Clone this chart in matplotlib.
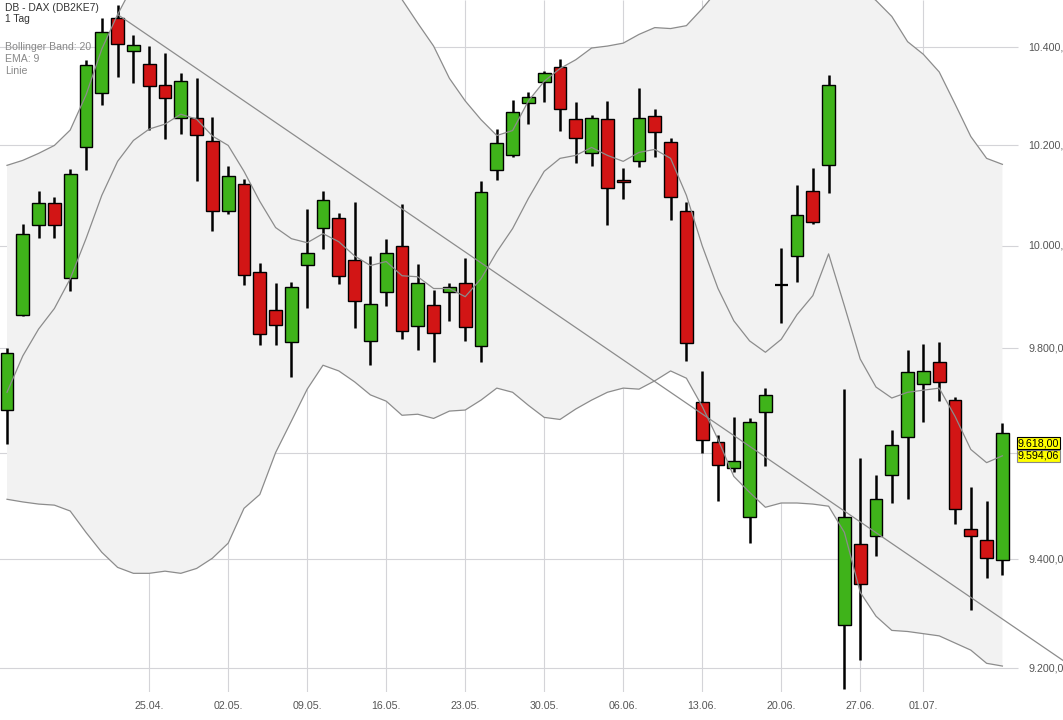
import numpy as np
import pandas as pd
import matplotlib
matplotlib.use('Agg')
import matplotlib.pyplot as plt
import matplotlib.transforms as mtransforms

plt.rcParams['font.family'] = ['Liberation Sans', 'DejaVu Sans']

# trading days shown (one candle per day)
days = pd.bdate_range('2016-04-12', '2016-07-08')

# daily OHLC
opens = [9681, 9865, 10042, 10084, 9937, 10196, 10307, 10459, 10392, 10366,
         10323, 10255, 10255, 10208, 10068, 10122, 9949, 9875, 9812, 9963,
         10036, 10054, 9971, 9814, 9910, 10000, 9843, 9884, 9910, 9927,
         9804, 10150, 10180, 10285, 10329, 10360, 10253, 10184, 10253, 10130,
         10168, 10259, 10206, 10068, 9696, 9621, 9570, 9478, 9677, 9922,
         9980, 10108, 10160, 9278, 9428, 9443, 9557, 9629, 9731, 9773,
         9700, 9456, 9436, 9398]
highs = [9800, 10044, 10108, 10096, 10152, 10374, 10459, 10486, 10424, 10402,
         10388, 10347, 10337, 10257, 10158, 10132, 9967, 9926, 9929, 10072,
         10108, 10064, 10086, 9980, 10014, 10082, 9965, 9914, 9926, 9975,
         10128, 10234, 10291, 10309, 10350, 10376, 10287, 10261, 10289, 10154,
         10317, 10273, 10214, 10086, 9756, 9633, 9667, 9665, 9723, 9996,
         10120, 10154, 10343, 9721, 9589, 9557, 9642, 9796, 9808, 9812,
         9706, 9535, 9508, 9656]
lows = [9617, 9863, 10016, 10016, 9912, 10150, 10281, 10339, 10327, 10232,
        10212, 10224, 10128, 10030, 10062, 9922, 9806, 9806, 9744, 9878,
        9994, 9924, 9839, 9767, 9882, 9818, 9796, 9773, 9853, 9814,
        9773, 10130, 10176, 10244, 10287, 10230, 10164, 10158, 10042, 10092,
        10156, 10176, 10050, 9775, 9600, 9508, 9564, 9430, 9574, 9849,
        9929, 10044, 10104, 9163, 9215, 9407, 9505, 9512, 9658, 9698,
        9465, 9306, 9365, 9370]
closes = [9790, 10024, 10084, 10042, 10142, 10364, 10431, 10406, 10404, 10321,
          10295, 10331, 10222, 10068, 10138, 9943, 9828, 9845, 9918, 9986,
          10090, 9941, 9892, 9886, 9986, 9833, 9927, 9829, 9918, 9841,
          10106, 10204, 10267, 10297, 10347, 10273, 10214, 10255, 10114, 10126,
          10255, 10228, 10096, 9810, 9623, 9576, 9585, 9658, 9710, 9922,
          10060, 10048, 10323, 9478, 9354, 9512, 9615, 9754, 9756, 9735,
          9493, 9443, 9402, 9637]

# Bollinger band (20) and EMA (9)
bb_upper = [10160, 10170, 10184, 10200, 10231, 10302, 10396, 10467, 10529, 10580,
            10620, 10645, 10661, 10671, 10671, 10661, 10645, 10631, 10616, 10600,
            10584, 10569, 10553, 10535, 10514, 10498, 10449, 10402, 10336, 10290,
            10252, 10220, 10230, 10290, 10330, 10356, 10374, 10398, 10402, 10408,
            10426, 10440, 10438, 10444, 10479, 10518, 10549, 10569, 10580, 10584,
            10584, 10580, 10569, 10555, 10522, 10496, 10463, 10411, 10385, 10349,
            10284, 10218, 10174, 10162]
bb_lower = [9512, 9507, 9503, 9501, 9490, 9450, 9413, 9385, 9374, 9374,
            9378, 9374, 9383, 9402, 9430, 9495, 9521, 9600, 9660, 9721,
            9767, 9756, 9735, 9710, 9698, 9671, 9673, 9665, 9679, 9681,
            9700, 9723, 9715, 9690, 9667, 9663, 9683, 9700, 9715, 9723,
            9721, 9737, 9756, 9742, 9688, 9625, 9555, 9525, 9497, 9505,
            9505, 9503, 9499, 9450, 9339, 9295, 9269, 9267, 9263, 9259,
            9246, 9233, 9209, 9204]
ema9 = [9715, 9785, 9837, 9877, 9935, 10014, 10100, 10168, 10210, 10233,
        10243, 10263, 10253, 10219, 10200, 10148, 10088, 10036, 10014, 10006,
        10024, 10008, 9980, 9961, 9969, 9941, 9939, 9916, 9916, 9900,
        9935, 9988, 10034, 10094, 10148, 10174, 10180, 10196, 10180, 10168,
        10186, 10192, 10174, 10100, 10000, 9916, 9853, 9814, 9792, 9817,
        9865, 9902, 9984, 9882, 9779, 9725, 9704, 9715, 9719, 9723,
        9669, 9606, 9581, 9594]

# trend line ("Linie"): candle index and price at both ends
trend_x = [7, 67]
trend_y = [10467, 9211]

tick_dates = ['2016-04-25', '2016-05-02', '2016-05-09', '2016-05-16', '2016-05-23',
              '2016-05-30', '2016-06-06', '2016-06-13', '2016-06-20', '2016-06-27',
              '2016-07-01']
price_levels = [9200, 9400, 9600, 9800, 10000, 10200, 10400]
# 9.600 label sits under the yellow price boxes, so it is not printed
label_levels = [9200, 9400, 9800, 10000, 10200, 10400]
last_price = 9618.00
last_ema = 9594.06

GREEN = '#3fb31a'
RED = '#d21515'
LINE = '#8c8c8c'
GRID = '#d4d4d8'


def de_fmt(v):
    return f'{v:,.2f}'.replace(',', 'X').replace('.', ',').replace('X', '.')


idx = np.arange(len(days))
o = np.array(opens, float)
h = np.array(highs, float)
l = np.array(lows, float)
c = np.array(closes, float)

fig = plt.figure(figsize=(10.63, 7.2), dpi=100)
ax = fig.add_axes([0, 28 / 720, 1, 692 / 720])
ax.set_yscale('log')
ax.set_xlim(-0.443, 66.835)
ax.set_ylim(9157, 10497)
ax.set_axis_off()

# grid
tick_idx = [days.get_loc(pd.Timestamp(d)) for d in tick_dates]
ax.vlines(tick_idx, 9157, 10497, color=GRID, lw=0.8, zorder=0)
ax.hlines(price_levels, -0.5, 64.0, color=GRID, lw=0.8, zorder=0)

# bollinger band area
ax.fill_between(idx, bb_lower, bb_upper, color='#f2f2f2', lw=0, zorder=1)

# candles
ax.vlines(idx, l, h, color='black', lw=1.8, zorder=3)
up = c > o
down = c < o
ax.bar(idx[up], (c - o)[up], bottom=o[up], width=0.8, color=GREEN,
       edgecolor='black', linewidth=1.0, zorder=4)
ax.bar(idx[down], (o - c)[down], bottom=c[down], width=0.8, color=RED,
       edgecolor='black', linewidth=1.0, zorder=4)
flat = ~(up | down)
ax.hlines(c[flat], idx[flat] - 0.4, idx[flat] + 0.4, color='black', lw=1.6, zorder=4)

# indicator lines
ax.plot(idx, bb_upper, color=LINE, lw=0.9, zorder=5)
ax.plot(idx, bb_lower, color=LINE, lw=0.9, zorder=5)
ax.plot(idx, ema9, color=LINE, lw=0.9, zorder=5)
ax.plot(trend_x, trend_y, color=LINE, lw=0.9, zorder=5, clip_on=False)

# price labels on the right
for p in label_levels:
    ax.text(64.62, p, de_fmt(p), ha='left', va='center', fontsize=7.7,
            color='#555555', zorder=6)

ax.text(63.98, last_price, de_fmt(last_price), ha='left', va='center', fontsize=7.7,
        color='black', zorder=8,
        bbox=dict(boxstyle='square,pad=0.08', fc='#ffff00', ec='black', lw=0.8))
ax.text(63.98, last_ema, de_fmt(last_ema), ha='left', va='center', fontsize=7.7,
        color='black', zorder=7,
        bbox=dict(boxstyle='square,pad=0.08', fc='#ffff00', ec='#888888', lw=0.8))

# date labels below
trans = mtransforms.blended_transform_factory(ax.transData, fig.transFigure)
for i, d in zip(tick_idx, tick_dates):
    ax.text(i, 1 - 706 / 720, pd.Timestamp(d).strftime('%d.%m.'), transform=trans,
            ha='center', va='center', fontsize=7.7, color='#555555', clip_on=False)

# header
fig.text(5 / 1063, 1 - 8 / 720, 'DB - DAX (DB2KE7)', ha='left', va='center',
         fontsize=7.4, color='#333333')
fig.text(5 / 1063, 1 - 19 / 720, '1 Tag', ha='left', va='center',
         fontsize=7.4, color='#333333')
for k, s in enumerate(['Bollinger Band: 20', 'EMA: 9', 'Linie']):
    fig.text(5 / 1063, 1 - (47 + 12 * k) / 720, s, ha='left', va='center',
             fontsize=7.6, color='#888888')

fig.savefig('out.png', dpi=100)
